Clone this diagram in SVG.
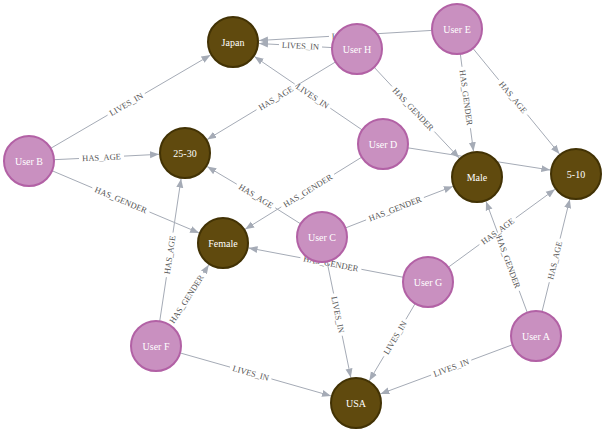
<svg xmlns="http://www.w3.org/2000/svg" width="606" height="432" viewBox="0 0 606 432">
<defs>
<marker id="arr" markerWidth="10" markerHeight="8" refX="9" refY="4" orient="auto" markerUnits="userSpaceOnUse"><path d="M0,0.5 L9,4 L0,7.5 z" fill="#a5abb6"/></marker>
<style>
.e{fill:none;stroke:#a5abb6;stroke-width:1;marker-end:url(#arr)}
.el{font-family:"Liberation Serif","Times New Roman",serif;font-size:8.5px;fill:#555;text-anchor:middle}
.u{fill:#C990C0;stroke:#b261a5;stroke-width:2}
.v{fill:#604A0E;stroke:#423204;stroke-width:2}
.nl{font-family:"Liberation Serif","Times New Roman",serif;font-size:10px;fill:#fff;text-anchor:middle}
</style>
</defs>
<rect width="606" height="432" fill="#fff"/>
<g id="connectors">
<g id="e-B-Japan"><path class="e" d="M50.6,148.4 L107.6,115.1 M144.8,93.5 L210.5,55.1"/><text class="el" transform="translate(126.2,104.3) rotate(-30.3)" y="3">LIVES_IN</text></g>
<g id="e-B-2530"><path class="e" d="M54,159.7 L79,158.5 M124,156.1 L159,154.3"/><text class="el" transform="translate(101.5,157.3) rotate(-2.9)" y="3">HAS_AGE</text></g>
<g id="e-B-Female"><path class="e" d="M52,170.7 L92.3,187.8 M149.5,212 L199.1,232.9"/><text class="el" transform="translate(120.9,199.9) rotate(22.9)" y="3">HAS_GENDER</text></g>
<g id="e-E-Japan"><path class="e" d="M432,30.4 L372,34 M329,36.4 L259,40.5"/><text class="el" transform="translate(350.5,35.2) rotate(-3.3)" y="3">LIVES_IN</text></g>
<g id="e-H-Japan"><path class="e" d="M332,47.6 L322,47 M279,44.6 L259,43.5"/><text class="el" transform="translate(300.5,45.8) rotate(3.2)" y="3">LIVES_IN</text></g>
<g id="e-H-2530"><path class="e" d="M335.6,61.9 L295,86.5 M256.5,109.7 L207.2,139.5"/><text class="el" transform="translate(275.7,98.1) rotate(-31.2)" y="3">HAS_AGE</text></g>
<g id="e-H-Male"><path class="e" d="M374.1,67.2 L392,86.4 M434.4,131.6 L459.2,158"/><text class="el" transform="translate(413.2,109) rotate(46.85)" y="3">HAS_GENDER</text></g>
<g id="e-E-Male"><path class="e" d="M460.3,53.8 L462,66.8 M470.4,128.2 L473.5,151.2"/><text class="el" transform="translate(466.2,97.5) rotate(82.3)" y="3">HAS_GENDER</text></g>
<g id="e-E-510"><path class="e" d="M472.9,48.3 L498.7,79.8 M527.3,114.6 L559.5,153.9"/><text class="el" transform="translate(513,97.2) rotate(50.6)" y="3">HAS_AGE</text></g>
<g id="e-D-Japan"><path class="e" d="M362.3,130 L330.3,108.2 M294.7,84 L254.5,56.6"/><text class="el" transform="translate(312.5,96.1) rotate(34.2)" y="3">LIVES_IN</text></g>
<g id="e-D-510"><path class="e" d="M407.7,147.8 L550.3,170"/></g>
<g id="e-D-Female"><path class="e" d="M361.7,157.2 L334.1,174.3 M281.3,206.9 L245.1,229.3"/><text class="el" transform="translate(307.7,190.6) rotate(-31.75)" y="3">HAS_GENDER</text></g>
<g id="e-C-2530"><path class="e" d="M300.7,223.9 L275.2,207.8 M236.8,184.2 L207.2,166.6"/><text class="el" transform="translate(256,196) rotate(31.5)" y="3">HAS_AGE</text></g>
<g id="e-C-Male"><path class="e" d="M345.3,228 L366.1,219.9 M423.9,197.5 L452.8,186.4"/><text class="el" transform="translate(395,208.7) rotate(-21.2)" y="3">HAS_GENDER</text></g>
<g id="e-G-Female"><path class="e" d="M403.4,277.3 L361.4,269.3 M300.4,257.7 L248.5,247.9"/><text class="el" transform="translate(330.9,263.5) rotate(10.8)" y="3">HAS_GENDER</text></g>
<g id="e-C-USA"><path class="e" d="M327,261.5 L333.6,293.5 M342.2,335.7 L350.8,377.5"/><text class="el" transform="translate(337.9,314.6) rotate(78.4)" y="3">LIVES_IN</text></g>
<g id="e-G-510"><path class="e" d="M448.2,267.3 L479.4,244.5 M515.8,217.9 L555,189.3"/><text class="el" transform="translate(497.6,231.2) rotate(-36.1)" y="3">HAS_AGE</text></g>
<g id="e-G-USA"><path class="e" d="M415.2,303.5 L405.9,319.3 M383.9,356.3 L369.3,380.7"/><text class="el" transform="translate(394.9,337.8) rotate(-59.2)" y="3">LIVES_IN</text></g>
<g id="e-A-Male"><path class="e" d="M527.3,312.6 L519.2,290.8 M497.6,232.6 L486,201.4"/><text class="el" transform="translate(508.4,261.7) rotate(69.6)" y="3">HAS_GENDER</text></g>
<g id="e-A-510"><path class="e" d="M542,311.7 L549.3,282.2 M560.1,238.6 L569.8,199.2"/><text class="el" transform="translate(554.7,260.4) rotate(-76.1)" y="3">HAS_AGE</text></g>
<g id="e-A-USA"><path class="e" d="M512.6,344.7 L471.3,360.1 M431.1,375.1 L380.4,393.9"/><text class="el" transform="translate(451.2,367.6) rotate(-20.4)" y="3">LIVES_IN</text></g>
<g id="e-F-2530"><path class="e" d="M159.7,321.3 L166.4,277.2 M173,232.6 L181.1,178.7"/><text class="el" transform="translate(169.7,254.9) rotate(-81.5)" y="3">HAS_AGE</text></g>
<g id="e-F-Female"><path class="e" d="M203.4,273.1 L208.8,264.8"/><text class="el" transform="translate(186.5,299.1) rotate(-57)" y="3">HAS_GENDER</text></g>
<g id="e-F-USA"><path class="e" d="M180,352.9 L230,367.1 M271.4,378.9 L331,395.9"/><text class="el" transform="translate(250.7,373) rotate(15.9)" y="3">LIVES_IN</text></g>
</g>
<g id="nodes">
<g id="n-japan"><circle class="v" cx="233" cy="42" r="25"/><text class="nl" x="233" y="45.5">Japan</text></g>
<g id="n-2530"><circle class="v" cx="185" cy="153" r="25"/><text class="nl" x="185" y="156.5">25-30</text></g>
<g id="n-female"><circle class="v" cx="223" cy="243" r="25"/><text class="nl" x="223" y="246.5">Female</text></g>
<g id="n-male"><circle class="v" cx="477" cy="177" r="25"/><text class="nl" x="477" y="180.5">Male</text></g>
<g id="n-510"><circle class="v" cx="576" cy="174" r="25"/><text class="nl" x="576" y="177.5">5-10</text></g>
<g id="n-usa"><circle class="v" cx="356" cy="403" r="25"/><text class="nl" x="356" y="406.5">USA</text></g>
<g id="n-userB"><circle class="u" cx="29" cy="161" r="25"/><text class="nl" x="29" y="164.5">User B</text></g>
<g id="n-userH"><circle class="u" cx="357" cy="49" r="25"/><text class="nl" x="357" y="52.5">User H</text></g>
<g id="n-userE"><circle class="u" cx="457" cy="29" r="25"/><text class="nl" x="457" y="32.5">User E</text></g>
<g id="n-userD"><circle class="u" cx="383" cy="144" r="25"/><text class="nl" x="383" y="147.5">User D</text></g>
<g id="n-userC"><circle class="u" cx="322" cy="237" r="25"/><text class="nl" x="322" y="240.5">User C</text></g>
<g id="n-userG"><circle class="u" cx="428" cy="282" r="25"/><text class="nl" x="428" y="285.5">User G</text></g>
<g id="n-userA"><circle class="u" cx="536" cy="336" r="25"/><text class="nl" x="536" y="339.5">User A</text></g>
<g id="n-userF"><circle class="u" cx="156" cy="346" r="25"/><text class="nl" x="156" y="349.5">User F</text></g>
</g>
</svg>
